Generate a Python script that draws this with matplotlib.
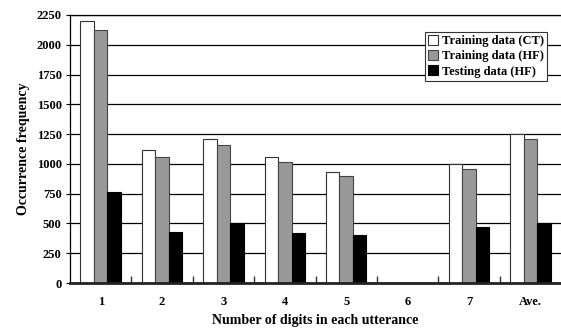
import numpy as np
import matplotlib
matplotlib.use("Agg")
import matplotlib.pyplot as plt
from matplotlib.ticker import FixedLocator

plt.rcParams['font.family'] = ['Liberation Serif', 'DejaVu Serif']
plt.rcParams['font.weight'] = 'bold'

categories = ['1', '2', '3', '4', '5', '6', '7', 'Ave.']
train_ct = [2200, 1115, 1210, 1055, 930, 0, 1000, 1255]
train_hf = [2120, 1055, 1160, 1020, 895, 0, 960, 1205]
test_hf = [765, 425, 500, 420, 405, 0, 470, 500]
series_names = ['Training data (CT)', 'Training data (HF)', 'Testing data (HF)']
yticks = np.arange(0, 2251, 250)

fig = plt.figure(figsize=(5.61, 3.33), dpi=100)
ax = fig.add_axes([0.1248, 0.150, 0.8752, 0.805])

x = np.arange(len(categories))
w = 0.22
ax.bar(x - w, train_ct, w, color='white', edgecolor='#333333', linewidth=0.8,
       label=series_names[0], zorder=2)
ax.bar(x, train_hf, w, color='#999999', edgecolor='#444444', linewidth=0.8,
       label=series_names[1], zorder=2)
ax.bar(x + w, test_hf, w, color='black', edgecolor='black', linewidth=0.8,
       label=series_names[2], zorder=2)

ax.set_xlim(-0.5, len(categories) - 0.5)
ax.set_ylim(0, 2250)
ax.set_yticks(yticks)
ax.set_xticks(x)
ax.set_xticklabels(categories, fontsize=9, fontweight='bold')
ax.tick_params(axis='x', length=0, pad=9)
ax.xaxis.set_minor_locator(FixedLocator(np.arange(0.5, len(categories) - 0.5, 1)))
ax.tick_params(axis='x', which='minor', direction='in', length=5, width=1, color='#333333')
ax.tick_params(axis='y', labelsize=9, length=3, width=0.8, pad=3)
for lab in ax.get_yticklabels():
    lab.set_fontweight('bold')

ax.yaxis.grid(True, color='black', linewidth=0.9, zorder=0)
ax.set_axisbelow(True)
ax.spines['right'].set_visible(False)
ax.spines['top'].set_linewidth(0.9)
ax.spines['left'].set_linewidth(0.9)
ax.spines['bottom'].set_linewidth(2)
ax.spines['bottom'].set_color('#222222')
ax.spines['bottom'].set_zorder(4)

ax.set_xlabel('Number of digits in each utterance', fontsize=10, fontweight='bold', labelpad=5)
ax.set_ylabel('Occurrence frequency', fontsize=10, fontweight='bold', labelpad=5)

leg = ax.legend(loc='upper right', bbox_to_anchor=(0.971, 0.937), fontsize=9,
                frameon=True, fancybox=False, edgecolor='#333333', framealpha=1,
                handlelength=0.8, handleheight=0.8, handletextpad=0.3,
                borderpad=0.25, labelspacing=0.25, borderaxespad=0)
leg.get_frame().set_linewidth(0.8)

fig.savefig('out.png', dpi=100)
